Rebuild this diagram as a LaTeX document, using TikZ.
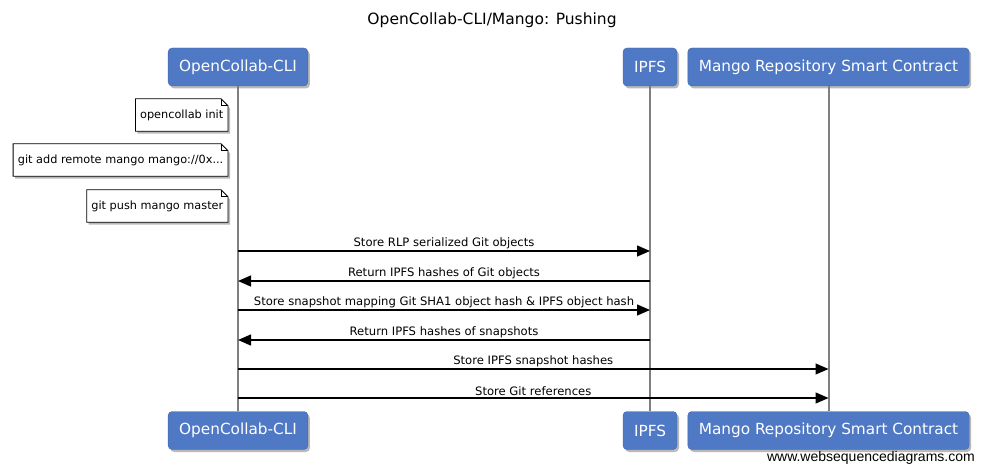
\documentclass[tikz,border=0pt]{standalone}
\usepackage{fontspec}
\setmainfont{DejaVu Sans}
\newfontfamily\footfont{Liberation Sans}
\usetikzlibrary{arrows.meta,shadows,backgrounds}
\usepackage{xcolor}

\definecolor{partblue}{HTML}{4F79C5}
\definecolor{lifegray}{HTML}{7F7F7F}

\begin{document}
\begin{tikzpicture}[
    x=1pt, y=-1pt,
    part/.style={draw=partblue!85!black, fill=partblue, rounded corners=4pt, text=white, minimum height=38pt, inner xsep=11pt, font=\fontsize{15.3}{17}\selectfont, drop shadow={shadow xshift=2pt, shadow yshift=-2.5pt, opacity=0.55}},
    life/.style={draw=lifegray, line width=2pt},
    msg/.style={-{Triangle[length=13pt,width=11pt]}, line width=1.3pt},
    lbl/.style={midway, above, inner sep=1.5pt, font=\fontsize{11.6}{13}\selectfont},
    note/.style={anchor=east, minimum height=32pt, inner xsep=4.5pt, font=\fontsize{11.3}{13}\selectfont},
    notepath/.style={draw, fill=white, line width=0.8pt, drop shadow={shadow xshift=2pt, shadow yshift=-2.5pt, opacity=0.55}}
]
\useasboundingbox (0,0) rectangle (984,473);

% Title
\node[font=\fontsize{15.5}{17}\selectfont] (title) at (492,20) {OpenCollab-CLI/Mango: Pushing};

% Participants, top and bottom
\node[part] (cli) at (238,67) {OpenCollab-CLI};
\node[part] (ipfs) at (650,67) {IPFS};
\node[part] (mango) at (828.5,67) {Mango Repository Smart Contract};
\node[part] (cliB) at (238,430.5) {OpenCollab-CLI};
\node[part] (ipfsB) at (650,430.5) {IPFS};
\node[part] (mangoB) at (828.5,430.5) {Mango Repository Smart Contract};

% Lifelines
\begin{scope}[on background layer]
\draw[life] (cli.south) -- (cliB.north);
\draw[life] (ipfs.south) -- (ipfsB.north);
\draw[life] (mango.south) -- (mangoB.north);
\end{scope}

% Notes
\node[note] (init) at (228,115) {opencollab init};
\node[note] (remote) at (228,160) {git add remote mango mango://0x...};
\node[note] (push) at (228,206) {git push mango master};
\begin{scope}[on background layer]
\foreach \n in {init,remote,push} {
  \draw[notepath] (\n.south west) -- (\n.north west) -- ([xshift=-7pt]\n.north east) -- ([yshift=-7pt]\n.north east) -- (\n.south east) -- cycle;
  \draw[line width=0.8pt] ([xshift=-7pt]\n.north east) |- ([yshift=-7pt]\n.north east);
}
\end{scope}

% Messages
\draw[msg] (cli |- 0,251) -- (ipfs |- 0,251) node[lbl] {Store RLP serialized Git objects};
\draw[msg] (ipfs |- 0,281) -- (cli |- 0,281) node[lbl] {Return IPFS hashes of Git objects};
\draw[msg] (cli |- 0,310) -- (ipfs |- 0,310) node[lbl] {Store snapshot mapping Git SHA1 object hash \& IPFS object hash};
\draw[msg] (ipfs |- 0,340) -- (cli |- 0,340) node[lbl] {Return IPFS hashes of snapshots};
\draw[msg] (cli |- 0,369) -- (mango |- 0,369) node[lbl] {Store IPFS snapshot hashes};
\draw[msg] (cli |- 0,398) -- (mango |- 0,398) node[lbl] {Store Git references};

% Footer
\node[anchor=east, font=\footfont\fontsize{14}{16}\selectfont, inner sep=0pt] (foot) at (975,458) {www.websequencediagrams.com};

\end{tikzpicture}
\end{document}
